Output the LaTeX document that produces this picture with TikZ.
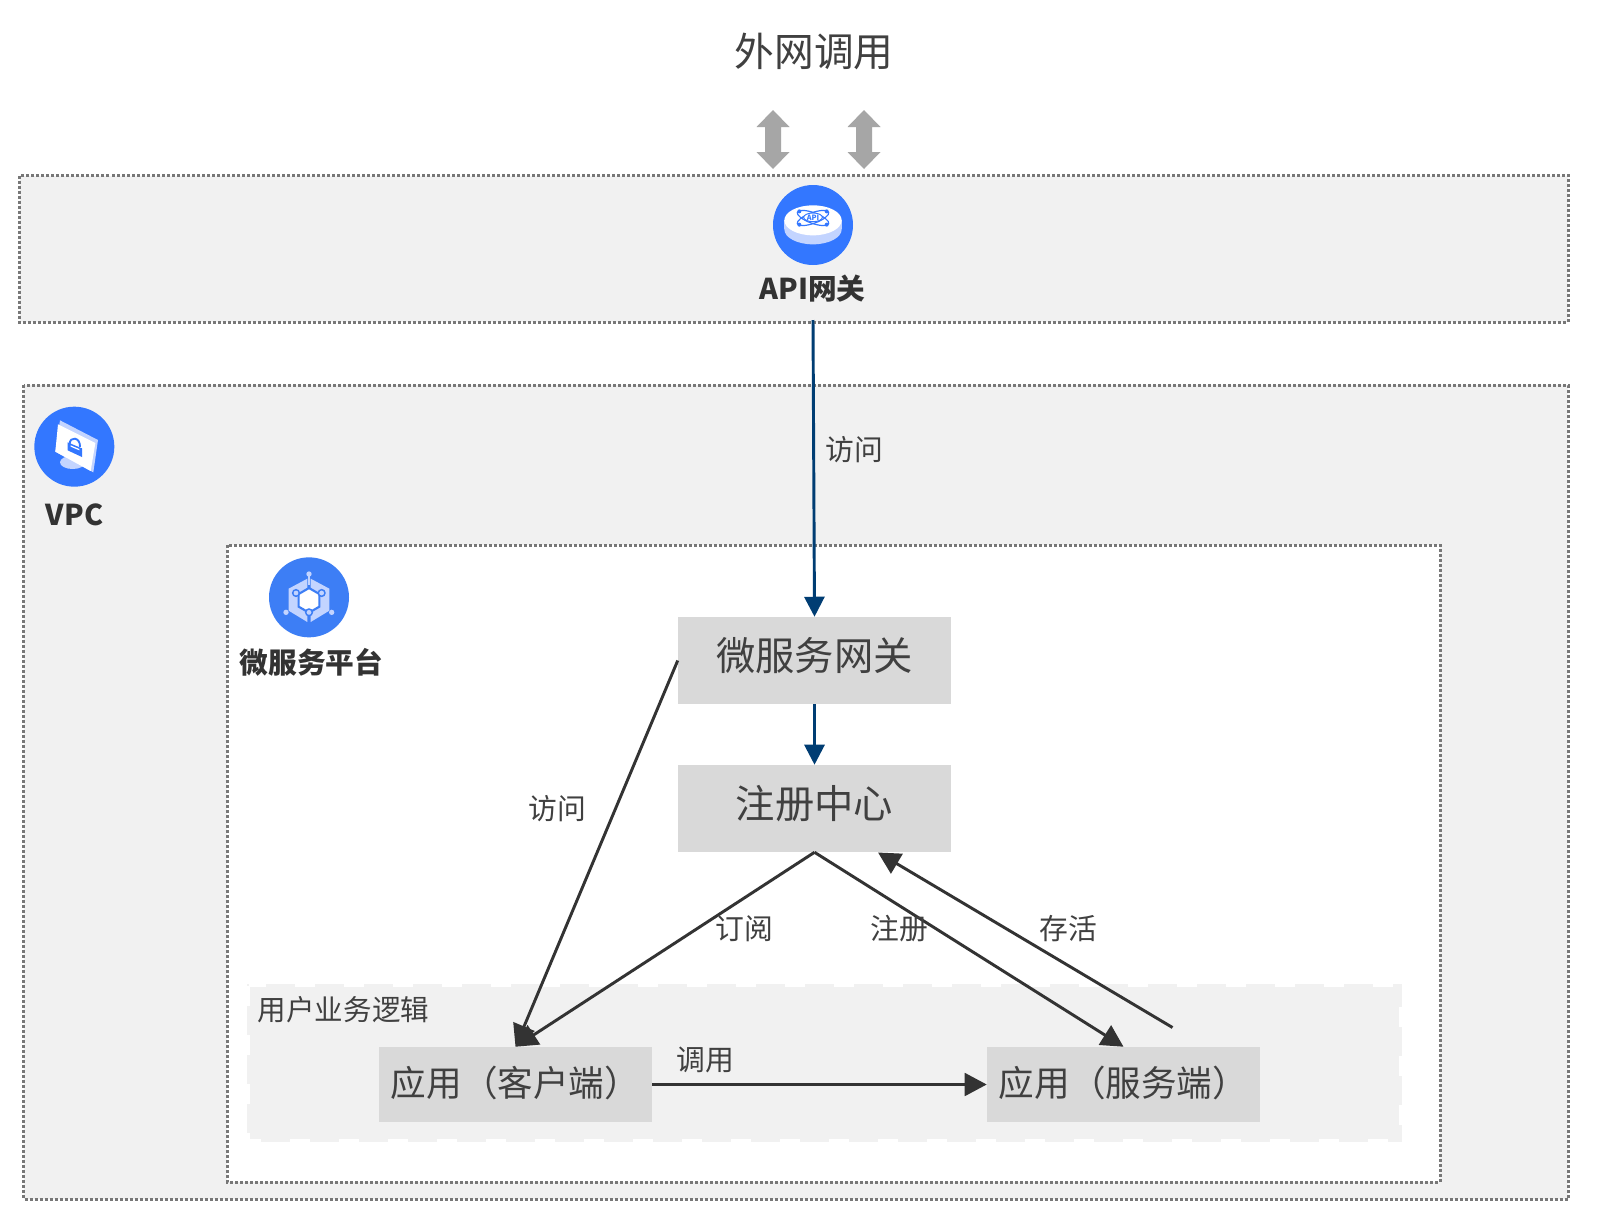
\documentclass[tikz,border=0pt]{standalone}
\usepackage{fontspec}
\setmainfont{Noto Sans CJK SC}
\usetikzlibrary{arrows.meta}
\definecolor{panelgray}{HTML}{F1F1F1}
\definecolor{boxgray}{HTML}{D9D9D9}
\definecolor{bordergray}{HTML}{777777}
\definecolor{ink}{HTML}{404040}
\definecolor{darkink}{HTML}{333333}
\definecolor{navy}{HTML}{003D73}
\definecolor{iconblue}{HTML}{3377FF}
\definecolor{iconblueb}{HTML}{3D7EF5}
\definecolor{iconpale}{HTML}{C3D4FF}
\definecolor{arrowgray}{HTML}{A6A6A6}
\tikzset{
  x=0.75pt,y=-0.75pt,
  panel/.style={draw=bordergray,line width=2.25pt,dash pattern=on 2.25pt off 1.5pt},
  procbox/.style={fill=boxgray,minimum width=204.75pt,minimum height=65.25pt,inner sep=0pt,text=ink},
  appbox/.style={fill=boxgray,minimum width=204.75pt,minimum height=56.25pt,inner sep=0pt,text=ink,font=\fontsize{26.7pt}{30pt}\selectfont},
  conlabel/.style={text=ink,font=\fontsize{21.6pt}{24pt}\selectfont,inner sep=0pt},
  boldlabel/.style={text=darkink,font=\fontsize{21.5pt}{24pt}\selectfont\bfseries,inner sep=0pt},
  navyarrow/.style={draw=navy,line width=2.2pt,-{Triangle[length=15pt,width=15pt]}},
  darkarrow/.style={draw=darkink,line width=2.2pt,-{Triangle[length=16.5pt,width=17pt]}},
  grayarrow/.style={fill=arrowgray,draw=none},
  iconframe/.style={x=0.25pt,y=-0.25pt},
}
\begin{document}
\begin{tikzpicture}
\useasboundingbox (0,0) rectangle (1602,1221);
\fill[white] (0,0) rectangle (1602,1221);
% panels
\draw[panel,fill=panelgray] (19.5,175.5) rectangle (1568,322);
\draw[panel,fill=panelgray] (23.5,385) rectangle (1568,1199);
\draw[panel,fill=white] (227,545) rectangle (1440,1182);
\fill[panelgray] (247,984) rectangle (1402,1142);
\draw[white,line width=2.25pt,dash pattern=on 15pt off 21.75pt] (248.5,985.5) rectangle (1400.5,1140.5);
% title
\node[text=ink,font=\fontsize{29.8pt}{33pt}\selectfont,inner sep=0pt] (title) at (814,51) {外网调用};
% double arrows
\foreach \ax in {773,864}{
  \fill[grayarrow] (\ax,110) -- (\ax+16.5,127) -- (\ax+8,127) -- (\ax+8,152) -- (\ax+16.5,152) -- (\ax,169)
     -- (\ax-16.5,152) -- (\ax-8,152) -- (\ax-8,127) -- (\ax-16.5,127) -- cycle;
}
% API icon
\begin{scope}[shift={(770,182)},iconframe]
  \fill[iconblue] (129,129) circle[radius=120];
  \fill[iconpale] (129,142) ellipse[x radius=86,y radius=45];
  \fill[iconpale] (43,115) rectangle (215,142);
  \fill[white] (129,115) ellipse[x radius=86,y radius=45];
  \draw[iconblue,line width=.9pt,rotate around={20:(129,108)}] (129,108) ellipse[x radius=50,y radius=16];
  \draw[iconblue,line width=.9pt,rotate around={-20:(129,108)}] (129,108) ellipse[x radius=50,y radius=16];
  \fill[white] (129,106) ellipse[x radius=28,y radius=13];
  \draw[iconblue,line width=.7pt] (129,106) ellipse[x radius=28,y radius=13];
  \foreach \dx/\dy in {88/88,170/88,88/128,170/128}{\fill[iconblue] (\dx,\dy) circle[radius=6];}
  \node[text=iconblue,font=\fontsize{5.5pt}{6pt}\selectfont\bfseries,inner sep=0pt] (apitext) at (129,106) {API};
\end{scope}
\node[boldlabel] (apilabel) at (812.5,288.5) {API网关};
% VPC icon
\begin{scope}[shift={(32,405)},iconframe]
  \fill[iconblue] (127,125) circle[radius=120];
  \fill[iconpale] (122,172) ellipse[x radius=38,y radius=20];
  \fill[iconpale] (84,46) -- (198,105) -- (184,202) -- (70,140) -- cycle;
  \fill[white] (78,58) -- (190,114) -- (176,198) -- (70,140) -- cycle;
  \draw[iconblue,line width=1.4pt] (113,118) .. controls (112,92) and (146,96) .. (144,126);
  \fill[iconblue] (107,112) -- (150,130) -- (150,156) -- (107,136) -- cycle;
  \fill[white] (116,121) -- (142,132) -- (142,136) -- (116,125) -- cycle;
\end{scope}
\node[boldlabel] (vpclabel) at (74.5,514.5) {VPC};
% platform icon
\begin{scope}[shift={(266,554)},iconframe]
  \fill[iconblueb] (129,130) circle[radius=120];
  \fill[iconpale] (124,74) -- (68,104) -- (68,170) -- (124,204) -- cycle;
  \fill[iconpale] (134,74) -- (190,104) -- (190,170) -- (134,204) -- cycle;
  \draw[iconblueb,line width=1.6pt,fill=white] (129,102) -- (160,120) -- (160,158) -- (129,176) -- (98,158) -- (98,120) -- cycle;
  \draw[iconpale,line width=1pt] (129,60) -- (129,92);
  \foreach \dx/\dy in {90/117,167/117,129/175}{\draw[iconblueb,line width=1.1pt,fill=iconpale] (\dx,\dy) circle[radius=10];}
  \foreach \dx/\dy in {129/60,60/175,197/175}{\fill[iconpale] (\dx,\dy) circle[radius=8];}
\end{scope}
\node[boldlabel] (platlabel) at (311.5,662) {微服务平台};
% nodes
\node[procbox] (gateway) at (814.5,660.5) {\fontsize{29.5pt}{33pt}\selectfont\raisebox{9.5pt}{微服务网关}};
\node[procbox] (registry) at (814.5,808.5) {\fontsize{29.5pt}{33pt}\selectfont\raisebox{9.5pt}{注册中心}};
\node[appbox] (client) at (515.5,1084.5) {\raisebox{5pt}{应用（客户端）}};
\node[appbox] (server) at (1123.5,1084.5) {\raisebox{5pt}{应用（服务端）}};
\node[text=ink,font=\fontsize{21.4pt}{24pt}\selectfont,inner sep=0pt] (bizlabel) at (343.5,1009.5) {用户业务逻辑};
% free ends
\coordinate (apiout) at (813,320);
\coordinate (keepstart) at (1172.5,1027.5);
\coordinate (keepend) at (878,852.5);
% connectors
\draw[navyarrow] (apiout) -- (gateway.north);
\draw[navyarrow] (gateway.south) -- (registry.north);
\draw[darkarrow] (gateway.west) -- (client.north);
\draw[darkarrow] (registry.south) -- (client.north);
\draw[darkarrow] (registry.south) -- (server.north);
\draw[darkarrow] (keepstart) -- (keepend);
\draw[darkarrow] (client.east) -- (server.west);
% labels
\node[conlabel] (l1) at (854.5,450) {访问};
\node[conlabel] (l2) at (557,808.5) {访问};
\node[conlabel] (l3) at (744,929) {订阅};
\node[conlabel] (l4) at (899.5,929) {注册};
\node[conlabel] (l5) at (1068,929) {存活};
\node[conlabel] (l6) at (705.5,1059.5) {调用};
\end{tikzpicture}
\end{document}
